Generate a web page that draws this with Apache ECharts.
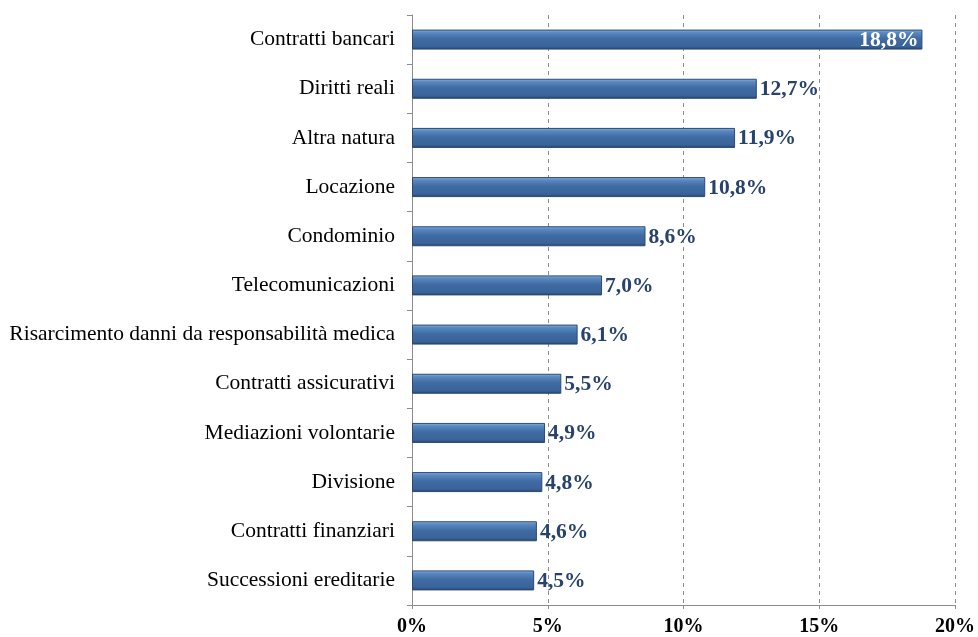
<!DOCTYPE html>
<html>
<head>
<meta charset="utf-8">
<script src="https://cdn.jsdelivr.net/npm/echarts@6/dist/echarts.min.js"></script>
<style>html,body{margin:0;padding:0;background:#fff}#c{width:978px;height:637px}</style>
</head>
<body>
<div id="c"></div>
<script>
var categories = ["Contratti bancari","Diritti reali","Altra natura","Locazione","Condominio","Telecomunicazioni","Risarcimento danni da responsabilità medica","Contratti assicurativi","Mediazioni volontarie","Divisione","Contratti finanziari","Successioni ereditarie"];
var values = [18.8,12.7,11.9,10.8,8.6,7.0,6.1,5.5,4.9,4.8,4.6,4.5];
var xTicks = [0,5,10,15,20];

var chart = echarts.init(document.getElementById('c'));
var grad = new echarts.graphic.LinearGradient(0,0,0,1,[
  {offset:0,color:'#8fb4e0'},
  {offset:0.15,color:'#5a88c0'},
  {offset:0.45,color:'#3f6ca3'},
  {offset:0.85,color:'#3a6399'},
  {offset:1,color:'#24416a'}
]);
chart.setOption({
  animation:false,
  grid:{left:412,right:23,top:15,bottom:30,containLabel:false},
  xAxis:{
    type:'value',min:xTicks[0],max:xTicks[xTicks.length-1],interval:5,
    axisLine:{show:true,lineStyle:{color:'#8c8c8c'}},
    axisTick:{show:true,length:4,lineStyle:{color:'#8c8c8c'}},
    axisLabel:{formatter:function(v){return v+'%';},fontFamily:'Liberation Serif',fontWeight:'bold',fontSize:20,color:'#000',margin:12},
    splitLine:{show:true,lineStyle:{type:[4,4],color:'#8c8c8c'}}
  },
  yAxis:{
    type:'category',data:categories,inverse:true,
    axisLine:{show:true,lineStyle:{color:'#8c8c8c'}},
    axisTick:{show:true,length:5,lineStyle:{color:'#8c8c8c'}},
    axisLabel:{fontFamily:'Liberation Serif',fontSize:21.5,color:'#000',margin:17}
  },
  series:[{
    type:'bar',data:values.map(function(v,i){
      return i===0 ? {value:v,label:{position:'insideRight',color:'#fff',offset:[-1,1]}} : v;
    }),
    barWidth:20,
    itemStyle:{color:grad,borderColor:'#2a4a75',borderWidth:1},
    label:{show:true,position:'right',distance:3,offset:[0,1],
      formatter:function(p){return p.value.toFixed(1).replace('.',',')+'%';},
      fontFamily:'Liberation Serif',fontWeight:'bold',fontSize:21.5,color:'#27436c'}
  }]
});
</script>
</body>
</html>
